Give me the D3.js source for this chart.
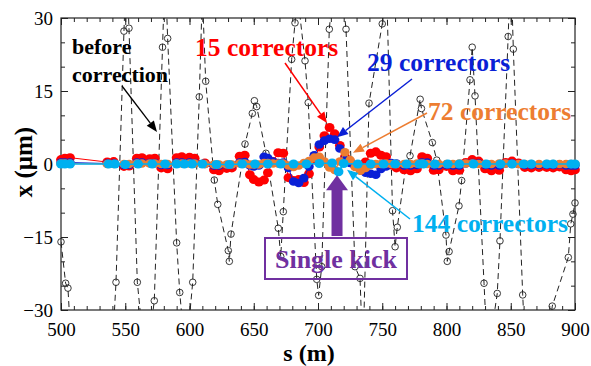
<!DOCTYPE html>
<html>
<head>
<meta charset="utf-8">
<script src="https://cdn.jsdelivr.net/npm/d3@7"></script>
<style>
body { margin: 0; background: #fff; }
svg text { font-family: "Liberation Serif", "Times New Roman", serif; }
</style>
</head>
<body>
<div id="chart-area"></div>
<script>
// before correction (dashed, open circles) - some vertices lie off the plot and get clipped
var sBefore = [500, 503.6, 505.4, 509, 540, 542.8, 549, 551, 552.9, 559.4, 566, 572.6, 579, 581, 583, 590, 592.4, 597, 602.5, 607.6,
  610, 612.6, 619.3, 622, 630.2, 631, 632.3, 643.2, 648.9, 650.5, 652.3, 659.5, 669.1, 671, 673, 679.5, 682.1, 684, 689.9, 692.4,
  699, 700.5, 702.9, 708.8, 715, 721.8, 728.8, 732.7, 735, 739.7, 750, 753, 758, 760, 761.7, 768, 771.6, 779.5, 780.5, 789,
  792.4, 799.6, 800.6, 802, 809.7, 811.8, 818.3, 820, 822.2, 829.2, 832, 839.5, 841.6, 848, 850, 852, 859.3, 862, 878, 882.3,
  894.8, 896.7, 898.4, 900]
var xBefore = [-16, -24.5, -25.5, -42, -38, -24.3, 27.3, 42, 27.9, -24.3, -42, -28.1, 24, 40, 25.8, -16.2, -26.4, -40, -24.3, 13.8,
  35, 17, -3.3, -8.3, -17.8, -20, -14.4, 4.1, 10.4, 13, 11.8, 2.2, -13.2, -19, -9.8, 21.5, 29, 35, 21.2, 12.6,
  -23.7, -27, -21.1, 27.7, 45, 27.7, -21.1, -23.5, -40, 12.5, 28.8, 40, -9.6, -17, -13, -1.1, 1.7, 13.3, 11.4, 4.4,
  0.8, -14.6, -20, -18, -8.6, -3.4, 17.3, 24, 14, -24.5, -40, -26.6, -15.8, 26.2, 42, 23.6, -26.9, -42, -40, -29.2,
  -19.2, -12.3, -10.3, -8]

// BPM positions for 15 / 29 / 72 corrector cases
var sBpm = [500, 503, 507, 536, 541, 549, 553, 559, 563, 569, 573, 578, 583, 590, 594, 600, 604, 612, 619, 623,
  629, 633, 639, 643, 647, 650, 654, 658, 661, 665, 669, 673, 677, 681, 685, 689, 693, 697, 701, 705,
  709, 713, 717, 721, 725, 729, 733, 737, 741, 745, 749, 753, 757, 761, 767, 772, 777, 781, 785, 790,
  794, 800, 805, 810, 815, 820, 825, 830, 835, 841, 846, 851, 856, 861, 866, 872, 878, 883, 888, 893,
  897, 900]
var x15 = [0.9, 1.2, 1.3, 0.4, 0.5, -0.5, -0.4, 1.2, 1.3, 1.1, 1.2, -0.8, -1.0, 1.3, 1.5, 1.4, 1.2, 0.2, -1.2, -1.4,
  -0.9, -0.8, 1.6, 1.8, -2.2, -3.2, -3.7, -3.3, -1.8, 0.5, 2.3, 2.2, -2.8, -3.4, -3.2, -3.8, -2.0, 0.8, 3.5, 5.8,
  7.5, 6.2, 3.8, 1.5, 0.5, -0.5, -0.8, 0.4, 2.2, 2.5, 1.8, 1.5, -0.2, -0.8, -1.2, -1.4, -1.0, 1.5, 1.2, -1.3,
  -1.2, -0.5, -1.4, -1.3, 0.3, 0.9, 0.6, -1.0, -1.4, -1.3, 0.3, 0.6, 0.2, -0.7, -0.8, -0.7, -0.7, -0.8, -0.6, -1.2,
  -1.4, -1.2]
var x29 = [0.3, 0.3, 0.3, 0.1, 0.1, -0.2, -0.2, 0.3, 0.3, 0.2, 0.2, -0.2, -0.2, 0.3, 0.3, 0.3, 0.2, 0, -0.3, -0.3,
  -0.2, -0.2, 0.3, 0.4, -0.3, -0.5, -0.3, 1.5, 1.2, 0.5, 0.2, 0.3, -0.8, -3.6, -3.9, -2.9, -0.5, 1.8, 4.0, 4.8,
  5.2, 5.0, 3.2, 1.0, 0.2, -0.4, -1.3, -1.8, -2.0, -2.2, -1.0, -0.5, 0.2, 0.1, -0.3, -0.3, -0.2, 0.3, 0.3, -0.3,
  -0.3, -0.2, -0.3, -0.3, 0.1, 0.2, 0.1, -0.2, -0.3, -0.3, 0.1, 0.1, 0, -0.2, -0.2, -0.2, -0.2, -0.2, -0.1, -0.3,
  -0.3, -0.3]
var x72 = [0.1, 0.1, 0.1, 0, 0, 0, 0, 0.1, 0.1, 0.1, 0.1, 0, 0, 0.1, 0.1, 0.1, 0.1, 0, -0.1, -0.1,
  -0.1, -0.1, 0.1, 0.1, -0.1, -0.1, -0.1, 0.2, 0.2, 0.1, 0.1, 0.1, -0.3, -0.6, -0.3, 0.2, 0.6, 1.3, 1.5, 0.5,
  -0.7, -1.2, 0.5, 2.4, 0.8, -0.6, -1.4, -0.8, -0.2, 0, 0, 0.1, 0, 0, 0, 0, 0.1, 0.1, 0,
  0, 0, 0, 0, 0.1, 0.1, 0.1, 0, 0, 0, 0.1, 0.1, 0, 0, 0, 0, 0, 0, 0, 0,
  0, 0, 0]

// 144 correctors
var s144 = [500, 503, 507, 537, 542, 550, 560, 571, 581, 590, 596, 602, 610, 621, 631, 641, 651, 661, 671, 681,
  691, 701, 711, 716, 720, 731, 741, 751, 760, 769, 779, 782, 791, 801, 810, 821, 831, 842, 851, 860,
  866, 878, 883, 897, 900]
var x144 = [0, 0, 0, 0, 0, -0.1, 0, 0, 0, 0, 0, 0, 0, -0.1, -0.1, 0, 0, 0, 0, 0,
  0, 0.1, 0.2, -1.6, 0.1, 0, 0, 0, 0, 0, 0, 0, 0, 0, 0, 0, 0, 0, 0, 0,
  0, 0, 0, 0, 0]

var xTicks = [500, 550, 600, 650, 700, 750, 800, 850, 900]
var yTicks = [-30, -15, 0, 15, 30]

var cRed = '#ff0000', cBlue = '#0a1fd6', cOrange = '#ed7d31', cCyan = '#00b0f0', cPurple = '#7030a0'
var serif = 'Liberation Serif'

var margin = { top: 18, left: 61, bottom: 56, right: 16 }
var width = 591 - margin.left - margin.right
var height = 366 - margin.top - margin.bottom

var svg = d3.select('#chart-area').append('svg')
    .attr('width', 591)
    .attr('height', 366)
    .attr('font-family', serif)
var g = svg.append('g').attr('transform', `translate(${margin.left}, ${margin.top})`)

var x = d3.scaleLinear().domain([500, 900]).range([0, width])
var y = d3.scaleLinear().domain([-30, 30]).range([height, 0])

g.append('defs').append('clipPath').attr('id', 'clip')
  .append('rect').attr('width', width).attr('height', height)

// axes: ticks inward on all four sides
function ticks(axis, vals, size, labels) {
  return axis.tickValues(vals).tickSizeInner(-size).tickSizeOuter(0)
    .tickFormat(labels ? d3.format('d') : '')
}
var minorX = d3.range(500, 901, 10)
var minorY = d3.range(-30, 31, 5)

g.append('g').attr('transform', `translate(0, ${height})`)
  .call(ticks(d3.axisBottom(x), minorX, 4, false))
g.append('g').attr('transform', `translate(0, ${height})`)
  .call(ticks(d3.axisBottom(x), xTicks, 7, true).tickPadding(13))
g.append('g').call(ticks(d3.axisTop(x), minorX, 4, false))
g.append('g').call(ticks(d3.axisTop(x), xTicks, 7, false))
g.append('g').call(ticks(d3.axisLeft(y), minorY, 4, false))
g.append('g').call(ticks(d3.axisLeft(y), yTicks, 7, true).tickPadding(8))
g.append('g').attr('transform', `translate(${width}, 0)`).call(ticks(d3.axisRight(y), minorY, 4, false))
g.append('g').attr('transform', `translate(${width}, 0)`).call(ticks(d3.axisRight(y), yTicks, 7, false))

g.selectAll('.domain').remove()
g.selectAll('.tick line').attr('stroke', '#222')
g.selectAll('.tick text')
  .attr('font-family', serif)
  .attr('font-size', '19px')
  .attr('fill', '#000')

g.append('rect')
  .attr('width', width).attr('height', height)
  .attr('fill', 'none').attr('stroke', '#222').attr('stroke-width', 1.2)

// axis labels
g.append('text')
  .attr('x', width / 2 - 9)
  .attr('y', height + 51)
  .attr('text-anchor', 'middle')
  .attr('font-family', serif)
  .attr('font-size', '24px')
  .attr('font-weight', 'bold')
  .text('s (m)')

g.append('text')
  .attr('transform', `translate(-29, ${height / 2 - 2}) rotate(-90)`)
  .attr('text-anchor', 'middle')
  .attr('font-family', serif)
  .attr('font-size', '25px')
  .attr('font-weight', 'bold')
  .text('x (\u03bcm)')

// before correction
var before = sBefore.map((s, i) => ({ s: s, v: xBefore[i] }))
var line = d3.line().x(d => x(d.s)).y(d => y(d.v))

g.append('path')
  .datum(before)
  .attr('clip-path', 'url(#clip)')
  .attr('d', line)
  .attr('fill', 'none')
  .attr('stroke', '#222')
  .attr('stroke-width', 1)
  .attr('stroke-dasharray', '6,4')

g.selectAll('.pt-before')
  .data(before.filter(d => d.v >= -30 && d.v <= 30))
  .enter().append('circle')
    .attr('class', 'pt-before')
    .attr('cx', d => x(d.s))
    .attr('cy', d => y(d.v))
    .attr('r', 3.3)
    .attr('fill', 'none')
    .attr('stroke', '#222')
    .attr('stroke-width', 0.9)

// corrected orbits
function series(sv, xv, color, cls, lw, r) {
  var data = sv.map((s, i) => ({ s: s, v: xv[i] }))
  g.append('path')
    .datum(data)
    .attr('d', line)
    .attr('fill', 'none')
    .attr('stroke', color)
    .attr('stroke-width', lw)
  g.selectAll('.' + cls)
    .data(data)
    .enter().append('ellipse')
      .attr('class', cls)
      .attr('cx', d => x(d.s))
      .attr('cy', d => y(d.v))
      .attr('rx', r + 0.4)
      .attr('ry', r)
      .attr('fill', color)
}
series(sBpm, x15, cRed, 'p15', 1, 4.5)
series(sBpm, x29, cBlue, 'p29', 1, 4.3)
series(sBpm, x72, cOrange, 'p72', 1, 4.3)
series(s144, x144, cCyan, 'p144', 1.6, 4.5)

// annotations
function arrow(x1, y1, x2, y2, color, w) {
  var a = Math.atan2(y2 - y1, x2 - x1)
  var len = 11, hw = 4.5
  var bx = x2 - len * Math.cos(a), by = y2 - len * Math.sin(a)
  svg.append('line')
    .attr('x1', x1).attr('y1', y1).attr('x2', bx).attr('y2', by)
    .attr('stroke', color).attr('stroke-width', w)
  svg.append('polygon')
    .attr('points', [[x2, y2],
      [bx + hw * Math.sin(a), by - hw * Math.cos(a)],
      [bx - hw * Math.sin(a), by + hw * Math.cos(a)]].map(p => p.join(',')).join(' '))
    .attr('fill', color)
}
function X(s) { return margin.left + x(s) }
function Y(v) { return margin.top + y(v) }

function label(tx, ty, str, color, size) {
  svg.append('text')
    .attr('x', tx).attr('y', ty)
    .attr('font-family', serif)
    .attr('font-size', size + 'px')
    .attr('font-weight', 'bold')
    .attr('fill', color)
    .text(str)
}

label(72, 54, 'before', '#000', 22)
label(72, 82, 'correction', '#000', 22)
arrow(122, 86, X(574.7), Y(6.6), '#000', 1.3)

label(195, 56, '15 correctors', cRed, 25.5)
arrow(285, 63, X(707), Y(8.4), cRed, 1.5)

label(367, 71, '29 correctors', cBlue, 25.5)
arrow(412, 79, X(714.8), Y(5.5), cBlue, 1.5)

label(428, 120, '72 correctors', cOrange, 25.5)
arrow(427, 113, X(727.2), Y(2.3), cOrange, 1.5)

label(412, 232, '144 correctors', cCyan, 25.5)
arrow(410, 219, X(722.6), Y(-1.2), cCyan, 1.5)

// single kick
var kx = X(714.8)
svg.append('rect')
  .attr('x', kx - 5.5).attr('y', Y(-4.2))
  .attr('width', 11).attr('height', Y(-14.8) - Y(-4.2))
  .attr('fill', cPurple)
svg.append('polygon')
  .attr('points', [[kx, Y(-2.3)], [kx - 11, Y(-5.4)], [kx + 11, Y(-5.4)]].map(p => p.join(',')).join(' '))
  .attr('fill', cPurple)
svg.append('rect')
  .attr('x', 265).attr('y', 238).attr('width', 142).attr('height', 41)
  .attr('fill', 'none').attr('stroke', cPurple).attr('stroke-width', 2)
svg.append('text')
  .attr('x', 336).attr('y', 268)
  .attr('text-anchor', 'middle')
  .attr('font-family', serif)
  .attr('font-size', '26px')
  .attr('font-weight', 'bold')
  .attr('fill', cPurple)
  .text('Single kick')
</script>
</body>
</html>
